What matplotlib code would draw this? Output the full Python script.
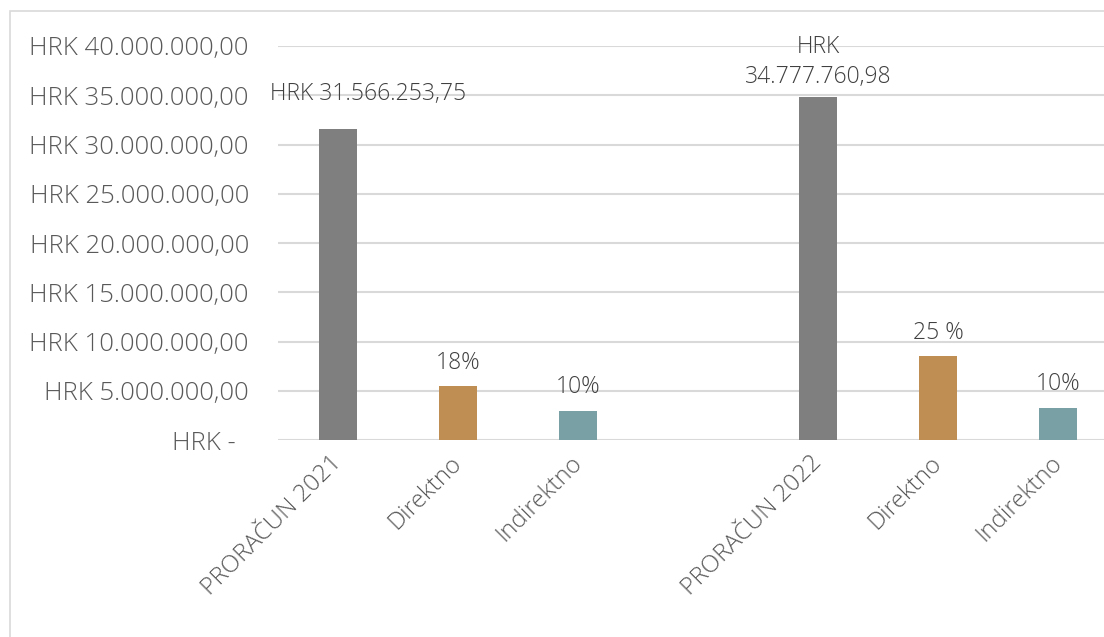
import matplotlib.pyplot as plt
from matplotlib.patches import Rectangle
from matplotlib.ticker import FuncFormatter
from matplotlib.transforms import ScaledTranslation

kategorije = ['PRORAČUN 2021', 'Direktno', 'Indirektno', '',
              'PRORAČUN 2022', 'Direktno', 'Indirektno']
vrijednosti = [31566253.75, 5450000, 2940000, 0,
               34777760.98, 8500000, 3250000]
oznake = ['HRK 31.566.253,75', '18%', '10%', '',
          'HRK\n34.777.760,98', '25 %', '10%']
boje = ['#7f7f7f', '#be8e53', '#78a0a5', '#ffffff',
        '#7f7f7f', '#be8e53', '#78a0a5']
y_ticks = [0, 5e6, 10e6, 15e6, 20e6, 25e6, 30e6, 35e6, 40e6]

plt.rcParams['font.family'] = ['Open Sans', 'DejaVu Sans']
plt.rcParams['font.weight'] = 'light'

fig = plt.figure(figsize=(11.04, 6.37), dpi=100)
# okvir grafikona (odrezan desno i dolje)
fig.patches.append(Rectangle((10 / 1104, -0.1), 1.2, 1 - 11 / 637 + 0.1,
                             transform=fig.transFigure, fill=False,
                             edgecolor='#d9d9d9', linewidth=1.2))

ax = fig.add_axes([278 / 1104, 197 / 637, 840 / 1104, 394 / 637])
x = list(range(len(kategorije)))
ax.bar(x, vrijednosti, width=0.32, color=boje, zorder=3)

ax.set_xlim(-0.5, 6.5)
ax.set_ylim(0, 40e6)
ax.set_yticks(y_ticks)


def hrk(v, pos):
    if v == 0:
        return 'HRK -  '
    s = f'{v:,.2f}'.replace(',', ' ').replace('.', ',').replace(' ', '.')
    return 'HRK ' + s


ax.yaxis.set_major_formatter(FuncFormatter(hrk))
ax.grid(axis='y', color='#d9d9d9', linewidth=1.5, zorder=0)
for s in ax.spines.values():
    s.set_visible(False)
ax.tick_params(axis='y', length=0, pad=21, labelsize=18.5, labelcolor='#595959')
ax.tick_params(axis='x', length=0, pad=8, labelsize=17.5, labelcolor='#595959')
ax.set_xticks(x)
ax.set_xticklabels(kategorije, rotation=45, ha='right', va='top',
                   rotation_mode='anchor')
pomak = ScaledTranslation(-8 / 100, 0, fig.dpi_scale_trans)
for lbl in ax.get_xticklabels():
    lbl.set_transform(lbl.get_transform() + pomak)

# oznake podataka
for i, (v, t) in enumerate(zip(vrijednosti, oznake)):
    if not t:
        continue
    if i == 0:
        ax.text(i + 0.25, v + 3.6e6, t, ha='center', va='center',
                fontsize=16.5, color='#404040')
    elif i == 4:
        ax.text(i, v + 3.6e6, t, ha='center', va='center',
                fontsize=16.5, color='#404040', linespacing=1.3)
    else:
        ax.text(i, v + 2.4e6, t, ha='center', va='center',
                fontsize=16.5, color='#404040')

fig.savefig('out.png', dpi=100)
